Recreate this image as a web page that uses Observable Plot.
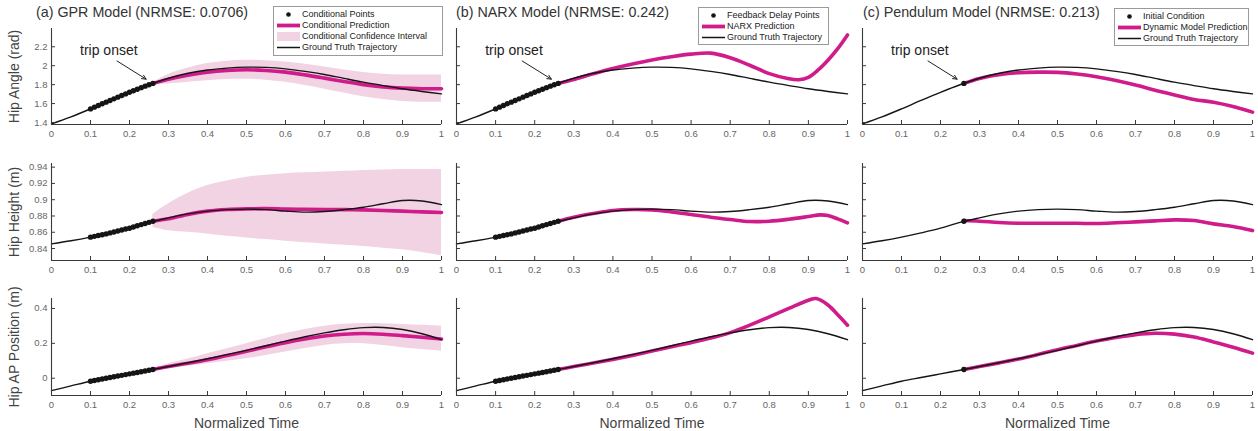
<!DOCTYPE html>
<html><head><meta charset="utf-8">
<script src="https://cdn.jsdelivr.net/npm/d3@7"></script>
<script src="https://cdn.jsdelivr.net/npm/@observablehq/plot@0.6"></script>
<style>
body{margin:0;background:#fff;}
#chart{position:relative;width:1258px;height:431px;overflow:hidden;font-family:"Liberation Sans",Arial,sans-serif;}
.panel{position:absolute;}
.title{position:absolute;font-size:14.3px;color:#333;white-space:nowrap;line-height:16px;}
.legend{position:absolute;background:#fff;border:1px solid #9a9a9a;font-size:9px;color:#222;padding:1.5px 4px 0 3px;box-sizing:border-box;}
.legend .row{display:flex;align-items:center;height:11px;white-space:nowrap;line-height:11px;}
.legend svg{margin-right:2px;flex:none;}
g[aria-label="y-axis label"] text, g[aria-label="x-axis label"] text{font-size:14px;fill:#444;}
</style>
</head><body>
<div id="chart"></div>
<script>
// ---------- data ----------
const xTicks = [0, 0.1, 0.2, 0.3, 0.4, 0.5, 0.6, 0.7, 0.8, 0.9, 1];
const angleTicks = [1.4, 1.6, 1.8, 2, 2.2];
const heightTicks = [0.84, 0.86, 0.88, 0.9, 0.92, 0.94];
const apTicks = [0, 0.2, 0.4];
const rowLabels = ["Hip Angle (rad)", "Hip Height (m)", "Hip AP Position (m)"];
const panelTitles = ["(a) GPR Model (NRMSE: 0.0706)", "(b) NARX Model (NRMSE: 0.242)", "(c) Pendulum Model (NRMSE: 0.213)"];

const truthTime = [0, 0.05, 0.1, 0.15, 0.2, 0.25, 0.3, 0.35, 0.4, 0.45, 0.5, 0.55, 0.6, 0.65, 0.7, 0.75, 0.8, 0.85, 0.9, 0.95, 1];
const truthAngle = [1.386, 1.46, 1.544, 1.633, 1.719, 1.799, 1.868, 1.92, 1.955, 1.975, 1.985, 1.982, 1.967, 1.94, 1.907, 1.866, 1.826, 1.79, 1.756, 1.728, 1.703];
const truthHeight = [0.8457, 0.8495, 0.854, 0.8592, 0.865, 0.8722, 0.8777, 0.8826, 0.886, 0.8878, 0.8884, 0.8878, 0.886, 0.8847, 0.8855, 0.8878, 0.8908, 0.895, 0.899, 0.8985, 0.894];
const truthAP = [-0.071, -0.044, -0.0173, 0.004, 0.025, 0.046, 0.067, 0.089, 0.1115, 0.135, 0.16, 0.186, 0.213, 0.238, 0.26, 0.278, 0.29, 0.291, 0.279, 0.255, 0.221];

const condTime = [0.10, 0.11, 0.12, 0.13, 0.14, 0.15, 0.16, 0.17, 0.18, 0.19, 0.20, 0.21, 0.22, 0.23, 0.24, 0.25, 0.26];
const condAngle = [1.544, 1.562, 1.580, 1.598, 1.615, 1.633, 1.650, 1.668, 1.685, 1.702, 1.719, 1.736, 1.752, 1.768, 1.784, 1.799, 1.813];
const condHeight = [0.854, 0.855, 0.856, 0.857, 0.858, 0.8592, 0.8604, 0.8616, 0.8628, 0.864, 0.865, 0.8665, 0.868, 0.8694, 0.8708, 0.8722, 0.8736];
const condAP = [-0.0173, -0.013, -0.0087, -0.0045, -0.0002, 0.004, 0.0082, 0.0124, 0.0166, 0.0208, 0.025, 0.029, 0.0332, 0.0374, 0.0416, 0.046, 0.05];

const initTime = [0.26];
const initAngle = [1.813];
const initHeight = [0.8736];
const initAP = [0.05];

const predTime = [0.26, 0.3, 0.35, 0.4, 0.45, 0.5, 0.55, 0.6, 0.65, 0.7, 0.75, 0.8, 0.85, 0.9, 0.95, 1];
const gprAngle = [1.813, 1.858, 1.90, 1.932, 1.95, 1.957, 1.95, 1.932, 1.903, 1.869, 1.833, 1.80, 1.776, 1.763, 1.757, 1.756];
const gprAngleLo = [1.803, 1.808, 1.825, 1.842, 1.853, 1.857, 1.847, 1.825, 1.791, 1.752, 1.711, 1.672, 1.642, 1.623, 1.613, 1.610];
const gprAngleHi = [1.823, 1.908, 1.975, 2.022, 2.047, 2.057, 2.053, 2.039, 2.015, 1.986, 1.955, 1.928, 1.910, 1.903, 1.901, 1.902];
const gprHeight = [0.8736, 0.8765, 0.882, 0.886, 0.888, 0.8888, 0.889, 0.8884, 0.8882, 0.888, 0.8878, 0.8875, 0.8868, 0.886, 0.885, 0.8843];
const gprHeightLo = [0.866, 0.862, 0.860, 0.858, 0.855, 0.853, 0.851, 0.849, 0.847, 0.8457, 0.844, 0.8425, 0.8405, 0.8384, 0.835, 0.831];
const gprHeightHi = [0.882, 0.895, 0.908, 0.9175, 0.923, 0.9277, 0.930, 0.932, 0.933, 0.934, 0.935, 0.936, 0.9365, 0.937, 0.937, 0.937];
const gprAP = [0.05, 0.067, 0.086, 0.106, 0.13, 0.154, 0.18, 0.204, 0.225, 0.242, 0.252, 0.256, 0.252, 0.244, 0.235, 0.225];
const gprAPLo = [0.045, 0.054, 0.068, 0.083, 0.097, 0.1115, 0.13, 0.15, 0.17, 0.188, 0.197, 0.198, 0.188, 0.175, 0.164, 0.154];
const gprAPHi = [0.055, 0.083, 0.11, 0.14, 0.169, 0.198, 0.228, 0.256, 0.279, 0.298, 0.309, 0.313, 0.312, 0.308, 0.303, 0.298];

const narxAngleTime = [0.26, 0.3, 0.35, 0.4, 0.45, 0.5, 0.55, 0.6, 0.65, 0.7, 0.75, 0.8, 0.85, 0.875, 0.9, 0.925, 0.95, 0.975, 1];
const narxAngle = [1.813, 1.855, 1.915, 1.97, 2.018, 2.061, 2.095, 2.122, 2.133, 2.085, 2.005, 1.916, 1.862, 1.852, 1.878, 1.955, 2.058, 2.18, 2.325];
const narxHeightTime = [0.26, 0.3, 0.35, 0.4, 0.45, 0.5, 0.55, 0.6, 0.65, 0.7, 0.75, 0.8, 0.85, 0.9, 0.93, 0.95, 0.975, 1];
const narxHeight = [0.8736, 0.8785, 0.883, 0.8867, 0.888, 0.8875, 0.885, 0.8818, 0.8785, 0.8757, 0.8732, 0.8736, 0.876, 0.8793, 0.8814, 0.8805, 0.8765, 0.8716];
const narxAPTime = [0.26, 0.3, 0.35, 0.4, 0.45, 0.5, 0.55, 0.6, 0.65, 0.7, 0.75, 0.8, 0.85, 0.9, 0.92, 0.95, 0.98, 1];
const narxAP = [0.05, 0.067, 0.087, 0.108, 0.131, 0.156, 0.18, 0.204, 0.23, 0.2615, 0.304, 0.352, 0.4, 0.447, 0.457, 0.42, 0.352, 0.304];

const pendAngle = [1.813, 1.866, 1.905, 1.926, 1.932, 1.93, 1.912, 1.884, 1.843, 1.795, 1.74, 1.69, 1.643, 1.615, 1.57, 1.51];
const pendHeight = [0.8744, 0.8736, 0.872, 0.8711, 0.871, 0.871, 0.871, 0.8707, 0.8716, 0.8728, 0.874, 0.8752, 0.8744, 0.8703, 0.867, 0.8621];
const pendAP = [0.05, 0.067, 0.088, 0.11, 0.136, 0.1635, 0.188, 0.213, 0.233, 0.25, 0.258, 0.253, 0.236, 0.208, 0.178, 0.144];

// annotation (data coordinates of the top row)
const annotText = ["trip onset"];
const annotTextTime = [0.147];
const annotTextValue = [2.16];
const annotArrowFrom = [[0.168, 2.05]];
const annotArrowTo = [[0.26, 1.813]];

const legendItems = [
  [["dot", "Conditional Points"], ["thick", "Conditional Prediction"], ["band", "Conditional Confidence Interval"], ["thin", "Ground Truth Trajectory"]],
  [["dot", "Feedback Delay Points"], ["thick", "NARX Prediction"], ["thin", "Ground Truth Trajectory"]],
  [["dot", "Initial Condition"], ["thick", "Dynamic Model Prediction"], ["thin", "Ground Truth Trajectory"]]
];

// ---------- style / layout ----------
const MAG = "#d01c8b", PINK = "#f2d3e3", INK = "#151515", AXIS = "#3a3a3a";
const FONT = '"Liberation Sans", Arial, sans-serif';
const colX0 = [51, 456, 862], colX1 = [441, 847, 1252];
const rowY0 = [28, 163, 298], rowY1 = [124, 260, 395];
const yDomains = [[1.379, 2.393], [0.8253, 0.9445], [-0.099, 0.457]];
const yTicksByRow = [angleTicks, heightTicks, apTicks];
const legendBoxes = [[273, 6, 170, 50], [698, 7, 131, 38], [1114, 8, 135, 38]];
const titleX = [36, 456, 863];

const zip = (t, v) => t.map((d, i) => ({t: d, v: v[i]}));
const zipBand = (t, lo, hi) => t.map((d, i) => ({t: d, lo: lo[i], hi: hi[i]}));

const truths = [truthAngle, truthHeight, truthAP];
const conds = [condAngle, condHeight, condAP];
const inits = [initAngle, initHeight, initAP];
const preds = [
  [zip(predTime, gprAngle), zip(narxAngleTime, narxAngle), zip(predTime, pendAngle)],
  [zip(predTime, gprHeight), zip(narxHeightTime, narxHeight), zip(predTime, pendHeight)],
  [zip(predTime, gprAP), zip(narxAPTime, narxAP), zip(predTime, pendAP)]
];
const bands = [zipBand(predTime, gprAngleLo, gprAngleHi), zipBand(predTime, gprHeightLo, gprHeightHi), zipBand(predTime, gprAPLo, gprAPHi)];
const annot = annotText.map((s, i) => ({label: s, tx: annotTextTime[i], ty: annotTextValue[i],
  x1: annotArrowFrom[i][0], y1: annotArrowFrom[i][1], x2: annotArrowTo[i][0], y2: annotArrowTo[i][1]}));

const chart = document.getElementById("chart");
const fmt = d3.format("~g");

for (let row = 0; row < 3; row++) {
  for (let col = 0; col < 3; col++) {
    const L = colX0[col], R = colX1[col], T = rowY0[row], B = rowY1[row];
    const ml = col === 0 ? L : 10, mr = 8, mt = 8, mb = row === 2 ? 36 : 20;
    const width = ml + (R - L) + mr, height = mt + (B - T) + mb;
    const fw = R - L, fh = B - T;
    const points = col === 2 ? zip(initTime, inits[row]) : zip(condTime, conds[row]);
    const marks = [];
    if (col === 0) marks.push(Plot.areaY(bands[row], {x: "t", y1: "lo", y2: "hi", fill: PINK, curve: "catmull-rom"}));
    marks.push(
      Plot.line(preds[row][col], {x: "t", y: "v", stroke: MAG, strokeWidth: 3.6, curve: "catmull-rom"}),
      Plot.line(zip(truthTime, truths[row]), {x: "t", y: "v", stroke: INK, strokeWidth: 1.4, curve: "catmull-rom"}),
      Plot.dot(points, {x: "t", y: "v", r: 2.7, fill: INK, stroke: null}),
      Plot.ruleX(xTicks, {stroke: AXIS, strokeWidth: 1, insetTop: fh - 4}),
      Plot.ruleY(yTicksByRow[row], {stroke: AXIS, strokeWidth: 1, insetRight: fw - 4}),
      Plot.ruleX([0], {stroke: AXIS, strokeWidth: 1.1}),
      Plot.ruleY([yDomains[row][0]], {stroke: AXIS, strokeWidth: 1.1}),
      Plot.axisX({ticks: xTicks, tickSize: 0, tickPadding: 6, tickFormat: fmt, fill: "#666",
        label: row === 2 ? "Normalized Time" : null, labelAnchor: "center", labelOffset: 32, labelArrow: "none"})
    );
    if (col === 0) marks.push(Plot.axisY({ticks: yTicksByRow[row], tickSize: 0, tickPadding: 4, tickFormat: fmt, fill: "#666",
      label: rowLabels[row], labelAnchor: "center", labelOffset: 42, labelArrow: "none"}));
    if (row === 0) marks.push(
      Plot.arrow(annot, {x1: "x1", y1: "y1", x2: "x2", y2: "y2", insetEnd: 8, headLength: 7, headAngle: 50, stroke: "#222", strokeWidth: 1}),
      Plot.text(annot, {x: "tx", y: "ty", text: "label", fontSize: 14, fill: "#222"})
    );
    const svg = Plot.plot({
      width, height, marginLeft: ml, marginRight: mr, marginTop: mt, marginBottom: mb,
      x: {domain: [0, 1], label: null},
      y: {domain: yDomains[row], label: null, axis: col === 0 ? undefined : null},
      style: {fontFamily: FONT, fontSize: "9.5px", color: "#666", background: "transparent", overflow: "visible"},
      marks
    });
    svg.classList.add("panel");
    svg.style.position = "absolute";
    svg.style.left = (L - ml) + "px";
    svg.style.top = (T - mt) + "px";
    chart.appendChild(svg);
  }
}

// titles
panelTitles.forEach((s, i) => {
  const d = document.createElement("div");
  d.className = "title";
  d.style.left = titleX[i] + "px";
  d.style.top = "4px";
  d.textContent = s;
  chart.appendChild(d);
});

// legends
function swatch(kind) {
  const ns = "http://www.w3.org/2000/svg";
  const s = document.createElementNS(ns, "svg");
  s.setAttribute("width", 23); s.setAttribute("height", 11);
  let el;
  if (kind === "dot") {
    el = document.createElementNS(ns, "circle");
    el.setAttribute("cx", 11.5); el.setAttribute("cy", 5.5); el.setAttribute("r", 2.3); el.setAttribute("fill", INK);
  } else if (kind === "band") {
    el = document.createElementNS(ns, "rect");
    el.setAttribute("x", 0); el.setAttribute("y", 1); el.setAttribute("width", 23); el.setAttribute("height", 9); el.setAttribute("fill", PINK);
  } else {
    el = document.createElementNS(ns, "line");
    el.setAttribute("x1", 0); el.setAttribute("x2", 23); el.setAttribute("y1", 5.5); el.setAttribute("y2", 5.5);
    el.setAttribute("stroke", kind === "thick" ? MAG : INK); el.setAttribute("stroke-width", kind === "thick" ? 3.8 : 1.5);
  }
  s.appendChild(el);
  return s;
}
legendItems.forEach((items, i) => {
  const [x, y, w, h] = legendBoxes[i];
  const box = document.createElement("div");
  box.className = "legend";
  Object.assign(box.style, {left: x + "px", top: y + "px", width: w + "px", height: h + "px"});
  items.forEach(([kind, label]) => {
    const r = document.createElement("div");
    r.className = "row";
    r.appendChild(swatch(kind));
    const sp = document.createElement("span");
    sp.textContent = label;
    r.appendChild(sp);
    box.appendChild(r);
  });
  chart.appendChild(box);
});
</script>
</body></html>
